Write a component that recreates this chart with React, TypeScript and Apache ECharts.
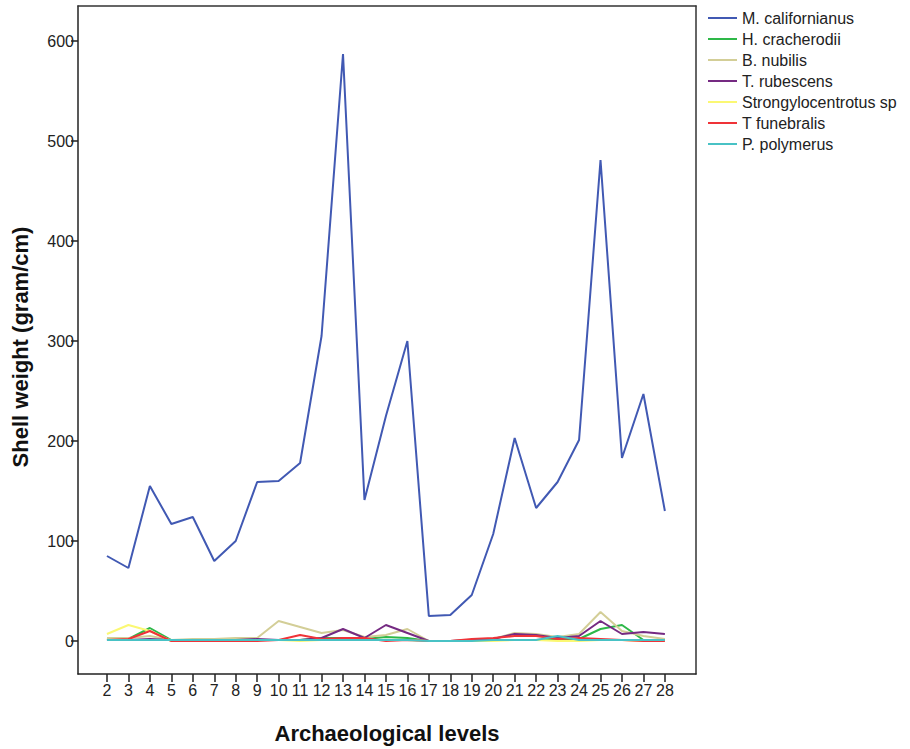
import React, { useEffect, useRef } from "react";
import * as echarts from "echarts";

const levels = [2, 3, 4, 5, 6, 7, 8, 9, 10, 11, 12, 13, 14, 15, 16, 17, 18, 19, 20, 21, 22, 23, 24, 25, 26, 27, 28];
const yTicks = [0, 100, 200, 300, 400, 500, 600];

const mCalifornianus = [85, 73, 155, 117, 124, 80, 100, 159, 160, 178, 305, 587, 141, 225, 300, 25, 26, 46, 107, 203, 133, 159, 201, 481, 183, 247, 130];
const hCracherodii = [2, 2, 13, 1, 1, 1, 1, 1, 1, 1, 3, 3, 2, 4, 3, 0, 0, 0, 1, 1, 1, 2, 2, 12, 16, 1, 1];
const bNubilis = [3, 3, 5, 1, 2, 2, 3, 3, 20, 14, 8, 11, 4, 6, 12, 0, 0, 1, 2, 8, 7, 4, 7, 29, 10, 5, 2];
const tRubescens = [1, 1, 2, 1, 1, 1, 1, 2, 1, 1, 3, 12, 3, 16, 8, 0, 0, 1, 2, 7, 6, 3, 5, 20, 7, 9, 7];
const strongylocentrotus = [7, 16, 10, 0, 1, 1, 1, 1, 1, 0, 1, 1, 1, 1, 1, 0, 0, 0, 0, 1, 1, 0, 0, 1, 1, 0, 0];
const tFunebralis = [1, 2, 10, 0, 0, 0, 0, 0, 1, 6, 2, 3, 3, 0, 1, 0, 0, 2, 3, 5, 5, 2, 3, 2, 1, 0, 0];
const pPolymerus = [1, 1, 1, 1, 1, 1, 1, 1, 1, 1, 1, 1, 1, 1, 1, 0, 0, 0, 1, 1, 1, 5, 1, 1, 1, 1, 1];

const seriesDefs = [
  { name: "M. californianus", data: mCalifornianus, color: "#4159b3" },
  { name: "H. cracherodii", data: hCracherodii, color: "#2eb848" },
  { name: "B. nubilis", data: bNubilis, color: "#d3ce97" },
  { name: "T. rubescens", data: tRubescens, color: "#752a82" },
  { name: "Strongylocentrotus sp", data: strongylocentrotus, color: "#fbf873" },
  { name: "T funebralis", data: tFunebralis, color: "#ef3338" },
  { name: "P. polymerus", data: pPolymerus, color: "#48c2c5" },
];

const FONT = "'Liberation Sans', Arial, sans-serif";

export default function App() {
  const ref = useRef<HTMLDivElement>(null);
  useEffect(() => {
    if (!ref.current) return;
    const chart = echarts.init(ref.current, null, { renderer: "svg" });
    const frame = { show: true, lineStyle: { color: "#333", width: 1.5 } };
    chart.setOption({
      animation: false,
      backgroundColor: "#fff",
      textStyle: { fontFamily: FONT },
      grid: { left: 78, top: 6, right: 214, bottom: 75, containLabel: false },
      legend: {
        orient: "vertical",
        left: 708,
        top: 10,
        padding: 0,
        icon: "rect",
        itemWidth: 29,
        itemHeight: 2,
        itemGap: 5,
        textStyle: { fontFamily: FONT, fontSize: 16, color: "#222", lineHeight: 16 },
        data: seriesDefs.map((s) => s.name),
      },
      xAxis: [
        {
          type: "value",
          min: 0.65,
          max: 29.45,
          axisLine: { show: true, onZero: false, lineStyle: { color: "#222", width: 1.5 } },
          axisTick: { show: true, length: 8, customValues: levels, lineStyle: { color: "#222", width: 1.5 } },
          axisLabel: { customValues: levels, fontSize: 16, color: "#222", margin: 8, fontFamily: FONT },
          splitLine: { show: false },
        },
        {
          type: "value",
          position: "top",
          min: 0.65,
          max: 29.45,
          axisLine: { ...frame, onZero: false },
          axisTick: { show: false },
          axisLabel: { show: false },
          splitLine: { show: false },
        },
      ],
      yAxis: [
        {
          type: "value",
          min: -33,
          max: 635,
          axisLine: { show: true, onZero: false, lineStyle: { color: "#222", width: 1.5 } },
          axisTick: { show: true, length: 7, customValues: yTicks, lineStyle: { color: "#222", width: 1.5 } },
          axisLabel: { customValues: yTicks, fontSize: 16, color: "#222", margin: 4, fontFamily: FONT },
          splitLine: { show: false },
        },
        {
          type: "value",
          position: "right",
          min: -33,
          max: 635,
          axisLine: { ...frame, onZero: false },
          axisTick: { show: false },
          axisLabel: { show: false },
          splitLine: { show: false },
        },
      ],
      graphic: [
        {
          type: "text",
          x: 20,
          y: 347,
          rotation: Math.PI / 2,
          style: {
            text: "Shell weight (gram/cm)",
            fontSize: 22,
            fontWeight: "bold",
            fontFamily: FONT,
            fill: "#111",
            align: "center",
            verticalAlign: "middle",
          },
        },
        {
          type: "text",
          x: 387,
          y: 733,
          style: {
            text: "Archaeological levels",
            fontSize: 22,
            fontWeight: "bold",
            fontFamily: FONT,
            fill: "#111",
            align: "center",
            verticalAlign: "middle",
          },
        },
      ],
      series: seriesDefs.map((s) => ({
        name: s.name,
        type: "line",
        symbol: "none",
        color: s.color,
        lineStyle: { color: s.color, width: 2 },
        data: levels.map((lv, i) => [lv, s.data[i]]),
        z: s.name === "M. californianus" ? 3 : 2,
      })),
    });
    return () => chart.dispose();
  }, []);
  return <div ref={ref} style={{ width: 910, height: 749, position: "absolute", left: 0, top: 0 }} />;
}
